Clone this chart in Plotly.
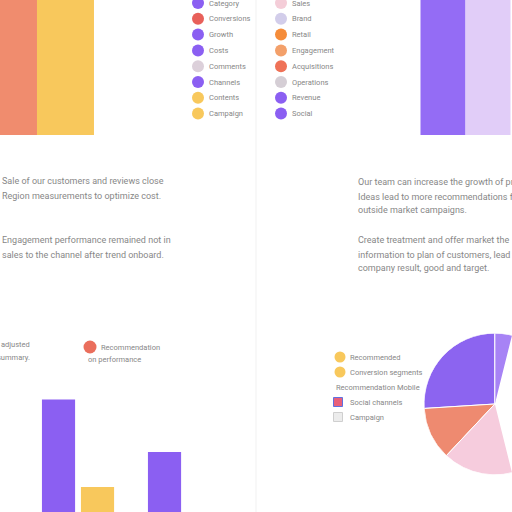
import numpy as np
import plotly.graph_objects as go

# --- data ---
top_left_cats = ["Retail", "Online"]
top_left_vals = [64, 71]

top_right_cats = ["Direct", "Partner"]
top_right_vals = [68, 75]

legend_left_labels = ["Category", "Conversions", "Growth", "Costs",
                      "Comments", "Channels", "Contents", "Campaign"]
legend_right_labels = ["Sales", "Brand", "Retail", "Engagement",
                       "Acquisitions", "Operations", "Revenue", "Social"]

bottom_cats = ["Q1", "Q2"]
bottom_purple = [45, 24]
bottom_yellow = [10, 0]

pie_labels = ["Social", "Email", "Search", "Referral"]
pie_vals = [26, 12, 37, 25]

para_left = ["Sale of our customers and reviews close",
             "Region measurements to optimize cost.",
             "Engagement performance remained not in",
             "sales to the channel after trend onboard."]
para_right = ["Our team can increase the growth of profit",
              "Ideas lead to more recommendations from the",
              "outside market campaigns.",
              "Create treatment and offer market the",
              "information to plan of customers, lead the",
              "company result, good and target."]

note_left = ["adjusted", "summary."]
note_dot = ["Recommendation", "on performance"]
legend_pie_labels = ["Recommended", "Conversion segments", "Recommendation Mobile",
                     "Social channels", "Campaign"]

# --- styles ---
PURPLE = "#8b5ff2"
YELLOW = "#f8c85c"
CORAL = "#f08c6e"
TXT = "#878787"
FONT = "Roboto"

legend_left_colors = [PURPLE, "#e8605a", PURPLE, PURPLE, "#dcd0da", PURPLE, YELLOW, YELLOW]
legend_right_colors = ["#f4cdd8", "#d2cdea", "#f58c3a", "#f3a06a", "#ef7257", "#d5ced5", PURPLE, PURPLE]
pie_colors = ["#8c64f0", "#ee8a70", "#f6ccdd", "#a783f5"]

fig = go.Figure()

# top-left bars (clipped at the top like the reference)
fig.add_trace(go.Bar(x=top_left_cats, y=top_left_vals, width=1,
                     marker=dict(color=[CORAL, YELLOW], line_width=0),
                     xaxis="x", yaxis="y"))
# top-right bars
fig.add_trace(go.Bar(x=top_right_cats, y=top_right_vals, width=1,
                     marker=dict(color=["#946cf5", "#e1cdf8"], line_width=0),
                     xaxis="x2", yaxis="y2"))
# bottom grouped bars
fig.add_trace(go.Bar(x=bottom_cats, y=bottom_purple, marker=dict(color=PURPLE, line_width=0),
                     xaxis="x5", yaxis="y5"))
fig.add_trace(go.Bar(x=bottom_cats, y=bottom_yellow, marker=dict(color=YELLOW, line_width=0),
                     xaxis="x5", yaxis="y5"))

# pie drawn as polar bars so it can be cut by the right edge
frac = np.array(pie_vals) / sum(pie_vals)
widths = frac * 360
centers = 90 + np.cumsum(widths) - widths / 2
fig.add_trace(go.Barpolar(r=[1] * len(pie_vals), theta=centers, width=widths,
                          text=pie_labels, marker=dict(color=pie_colors, line=dict(color="white", width=1)),
                          subplot="polar"))

# legend dots on a pixel overlay
ROW0, STEP = 3, 15.8
rows = [ROW0 + STEP * i for i in range(len(legend_left_labels))]
fig.add_trace(go.Scatter(x=[198] * len(rows), y=rows, mode="markers", cliponaxis=False,
                         marker=dict(size=12, color=legend_left_colors), xaxis="x6", yaxis="y6"))
fig.add_trace(go.Scatter(x=[281] * len(rows), y=rows, mode="markers", cliponaxis=False,
                         marker=dict(size=12, color=legend_right_colors), xaxis="x6", yaxis="y6"))
fig.add_trace(go.Scatter(x=[90], y=[347], mode="markers", cliponaxis=False,
                         marker=dict(size=13, color="#ea6e5c"), xaxis="x6", yaxis="y6"))
fig.add_trace(go.Scatter(x=[340, 340], y=[357, 372], mode="markers", cliponaxis=False,
                         marker=dict(size=11, color=YELLOW), xaxis="x6", yaxis="y6"))
fig.add_trace(go.Scatter(x=[338, 338], y=[402, 417], mode="markers", cliponaxis=False,
                         marker=dict(size=9, symbol="square", color=["#e8607a", "#ececec"],
                                     line=dict(color=["#6070e0", "#cfcfcf"], width=1)),
                         xaxis="x6", yaxis="y6"))

anns = []


def label(x, y, text, size=7.5, anchor="left", color=TXT):
    anns.append(dict(x=x, y=y, xref="x6", yref="y6", text=text, showarrow=False,
                     xanchor=anchor, yanchor="middle",
                     font=dict(family=FONT, size=size, color=color)))


for y, t in zip(rows, legend_left_labels):
    label(207, y, t)
for y, t in zip(rows, legend_right_labels):
    label(290, y, t)
for y, t in zip([181, 196, 240, 255], para_left):
    label(0, y, t, size=9)
for y, t in zip([182, 197, 210, 240, 255, 268], para_right):
    label(356, y, t, size=9)
label(32, 344, note_left[0], anchor="right")
label(32, 357, note_left[1], anchor="right")
label(99, 347, note_dot[0])
label(86, 359, note_dot[1])
for y, t, x in zip([357, 372, 387, 402, 417], legend_pie_labels, [348, 348, 334, 348, 348]):
    label(x, y, t)

hidden = dict(visible=False, showgrid=False, zeroline=False, fixedrange=True)
top_y = [1 - 135 / 512, 1]

fig.update_layout(
    width=512, height=512,
    margin=dict(l=0, r=0, t=0, b=0),
    paper_bgcolor="white", plot_bgcolor="rgba(0,0,0,0)",
    showlegend=False, barmode="group", bargap=0.264, bargroupgap=0.15,
    xaxis=dict(hidden, domain=[0, 0.25], range=[-0.149, 2.097], anchor="y"),
    yaxis=dict(hidden, domain=top_y, range=[0, 50], anchor="x"),
    xaxis2=dict(hidden, domain=[0.75, 1], range=[-1.311, 1.533], anchor="y2"),
    yaxis2=dict(hidden, domain=top_y, range=[0, 50], anchor="x2"),
    xaxis5=dict(hidden, domain=[0, 0.5], range=[-0.736, 1.679], anchor="y5"),
    yaxis5=dict(hidden, domain=[0, 125 / 512], range=[0, 50], anchor="x5"),
    xaxis6=dict(hidden, domain=[0, 1], range=[0, 512], anchor="y6"),
    yaxis6=dict(hidden, domain=[0, 1], range=[512, 0], anchor="x6"),
    polar=dict(domain=dict(x=[424 / 512, 1], y=[36 / 512, 180 / 512]),
               sector=[76, 284], bgcolor="rgba(0,0,0,0)", bargap=0,
               radialaxis=dict(visible=False, range=[0, 1]),
               angularaxis=dict(visible=False, direction="counterclockwise", rotation=0)),
    annotations=anns,
    shapes=[dict(type="line", xref="x6", yref="y6", x0=256, x1=256, y0=0, y1=512,
                 line=dict(color="#f1f1f1", width=1), layer="below")],
    font=dict(family=FONT),
)

# the page's default body margin would push the figure 8px down and right
fig.write_html("out.html", config={"displayModeBar": False},
               post_script="document.body.style.margin='0';document.body.style.overflow='hidden';")
